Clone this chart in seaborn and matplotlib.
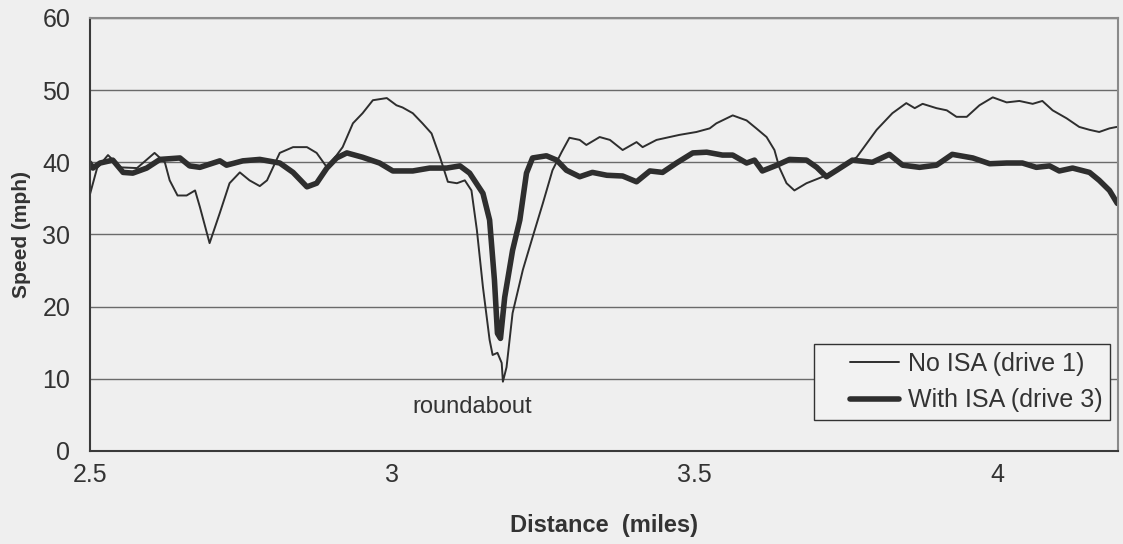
import pandas as pd
import numpy as np
import matplotlib
matplotlib.use("Agg")
import matplotlib.pyplot as plt
from matplotlib.lines import Line2D
from matplotlib.legend_handler import HandlerLine2D
import seaborn as sns

# No ISA (drive 1)
dist_no_isa = [2.500, 2.512, 2.530, 2.550, 2.578, 2.607, 2.624, 2.632, 2.645, 2.660,
               2.674, 2.682, 2.698, 2.715, 2.731, 2.748, 2.764, 2.781, 2.793, 2.814,
               2.836, 2.859, 2.875, 2.892, 2.902, 2.918, 2.935, 2.951, 2.968, 2.991,
               3.007, 3.017, 3.034, 3.050, 3.065, 3.079, 3.092, 3.107, 3.120, 3.131,
               3.140, 3.150, 3.161, 3.166, 3.174, 3.181, 3.183, 3.189, 3.199, 3.216,
               3.232, 3.249, 3.265, 3.280, 3.293, 3.310, 3.321, 3.343, 3.360, 3.381,
               3.404, 3.414, 3.437, 3.475, 3.503, 3.525, 3.536, 3.563, 3.586, 3.602,
               3.619, 3.632, 3.640, 3.652, 3.665, 3.685, 3.712, 3.740, 3.768, 3.801,
               3.827, 3.850, 3.864, 3.877, 3.900, 3.917, 3.933, 3.950, 3.971, 3.993,
               4.016, 4.037, 4.059, 4.075, 4.092, 4.115, 4.136, 4.153, 4.169, 4.186,
               4.198]
speed_no_isa = [35.5, 39.2, 41.0, 39.3, 39.2, 41.3, 40.0, 37.5, 35.4, 35.4,
                36.1, 33.8, 28.8, 33.0, 37.1, 38.6, 37.5, 36.7, 37.5, 41.3,
                42.1, 42.1, 41.3, 39.3, 40.3, 42.1, 45.4, 46.8, 48.6, 48.9,
                47.9, 47.6, 46.8, 45.4, 44.0, 40.7, 37.3, 37.1, 37.5, 36.1,
                30.6, 22.7, 15.4, 13.3, 13.6, 12.2, 9.6, 11.6, 19.1, 25.1,
                29.6, 34.3, 38.9, 41.4, 43.4, 43.1, 42.4, 43.5, 43.1, 41.7,
                42.8, 42.1, 43.1, 43.8, 44.2, 44.7, 45.4, 46.5, 45.8, 44.7,
                43.5, 41.7, 39.3, 37.1, 36.1, 37.1, 38.0, 39.2, 40.7, 44.5,
                46.8, 48.2, 47.5, 48.1, 47.5, 47.2, 46.3, 46.3, 47.9, 49.0,
                48.3, 48.5, 48.1, 48.5, 47.2, 46.1, 44.9, 44.5, 44.2, 44.7,
                44.9]

# With ISA (drive 3)
dist_isa = [2.500, 2.505, 2.517, 2.538, 2.555, 2.571, 2.594, 2.616, 2.649, 2.665,
            2.682, 2.715, 2.726, 2.753, 2.781, 2.814, 2.836, 2.859, 2.875, 2.892,
            2.908, 2.925, 2.951, 2.979, 3.001, 3.034, 3.062, 3.090, 3.112, 3.128,
            3.150, 3.161, 3.169, 3.174, 3.179, 3.186, 3.199, 3.211, 3.222, 3.232,
            3.255, 3.272, 3.288, 3.310, 3.331, 3.355, 3.381, 3.404, 3.426, 3.447,
            3.470, 3.497, 3.520, 3.546, 3.563, 3.586, 3.599, 3.612, 3.636, 3.657,
            3.685, 3.702, 3.718, 3.735, 3.761, 3.794, 3.822, 3.844, 3.872, 3.900,
            3.926, 3.960, 3.988, 4.016, 4.042, 4.065, 4.087, 4.103, 4.125, 4.153,
            4.169, 4.186, 4.199]
speed_isa = [39.9, 39.2, 39.9, 40.3, 38.6, 38.5, 39.2, 40.4, 40.6, 39.5,
             39.3, 40.2, 39.6, 40.2, 40.4, 39.9, 38.6, 36.6, 37.1, 39.2,
             40.6, 41.3, 40.7, 39.9, 38.8, 38.8, 39.2, 39.2, 39.5, 38.5,
             35.7, 32.0, 23.7, 16.3, 15.6, 21.3, 27.8, 32.0, 38.5, 40.6,
             40.9, 40.3, 38.9, 38.0, 38.6, 38.2, 38.1, 37.3, 38.8, 38.6,
             39.9, 41.3, 41.4, 41.0, 41.0, 39.9, 40.3, 38.8, 39.6, 40.4,
             40.3, 39.3, 38.0, 38.9, 40.3, 40.0, 41.1, 39.6, 39.3, 39.6,
             41.1, 40.6, 39.8, 39.9, 39.9, 39.3, 39.5, 38.8, 39.2, 38.6,
             37.5, 36.1, 34.3]

x_ticks = [2.5, 3, 3.5, 4]
x_tick_labels = ["2.5", "3", "3.5", "4"]
y_ticks = [0, 10, 20, 30, 40, 50, 60]

bg = "#efefef"
line_col = "#2e2e2e"
text_col = "#333333"

sns.set_style("white")
plt.rcParams['font.family'] = ['Liberation Sans', 'DejaVu Sans']

fig = plt.figure(figsize=(11.23, 5.44), dpi=100, facecolor=bg)
ax = fig.add_axes([0.080, 0.171, 0.9155, 0.796], facecolor=bg)

sns.lineplot(x=dist_no_isa, y=speed_no_isa, ax=ax, color=line_col, linewidth=1.4,
             label="No ISA (drive 1)", sort=False)
sns.lineplot(x=dist_isa, y=speed_isa, ax=ax, color=line_col, linewidth=4.0,
             label="With ISA (drive 3)", sort=False)

ax.set_xlim(2.5, 4.2)
ax.set_ylim(0, 60)
ax.set_xticks(x_ticks)
ax.set_xticklabels(x_tick_labels)
ax.set_yticks(y_ticks)
ax.yaxis.grid(True, color="#6a6a6a", linewidth=1.0)
ax.xaxis.grid(False)
ax.set_axisbelow(True)

for side in ["left", "bottom"]:
    ax.spines[side].set_color("#3a3a3a")
    ax.spines[side].set_linewidth(1.5)
for side in ["top", "right"]:
    ax.spines[side].set_color("#8a8a8a")
    ax.spines[side].set_linewidth(1.5)

ax.tick_params(axis="both", which="major", labelsize=18, colors="#3a3a3a",
               width=1.0, direction="out", labelcolor=text_col)
ax.tick_params(axis="y", length=7, pad=7)
ax.tick_params(axis="x", length=5, pad=4)

ax.set_xlabel("Distance  (miles)", fontsize=17, fontweight="bold", color=text_col, labelpad=19)
ax.set_ylabel("Speed (mph)", fontsize=15, fontweight="bold", color=text_col)
ax.yaxis.set_label_coords(-0.057, 0.5)

ax.text(3.133, 6.1, "roundabout", fontsize=17, color=text_col, ha="center", va="center")

leg = ax.legend(loc="lower right", bbox_to_anchor=(0.992, 0.072), fontsize=18,
                frameon=True, fancybox=False, handlelength=3.1, borderpad=0.3,
                labelspacing=0.5, handletextpad=0.35, borderaxespad=0,
                handler_map={Line2D: HandlerLine2D(xpad=1.15)})
leg.get_frame().set_edgecolor("#333333")
leg.get_frame().set_facecolor("#f2f2f2")
leg.get_frame().set_alpha(1)
leg.get_frame().set_linewidth(1.0)
for t in leg.get_texts():
    t.set_color(text_col)

fig.savefig("out.png", dpi=100, facecolor=bg)
